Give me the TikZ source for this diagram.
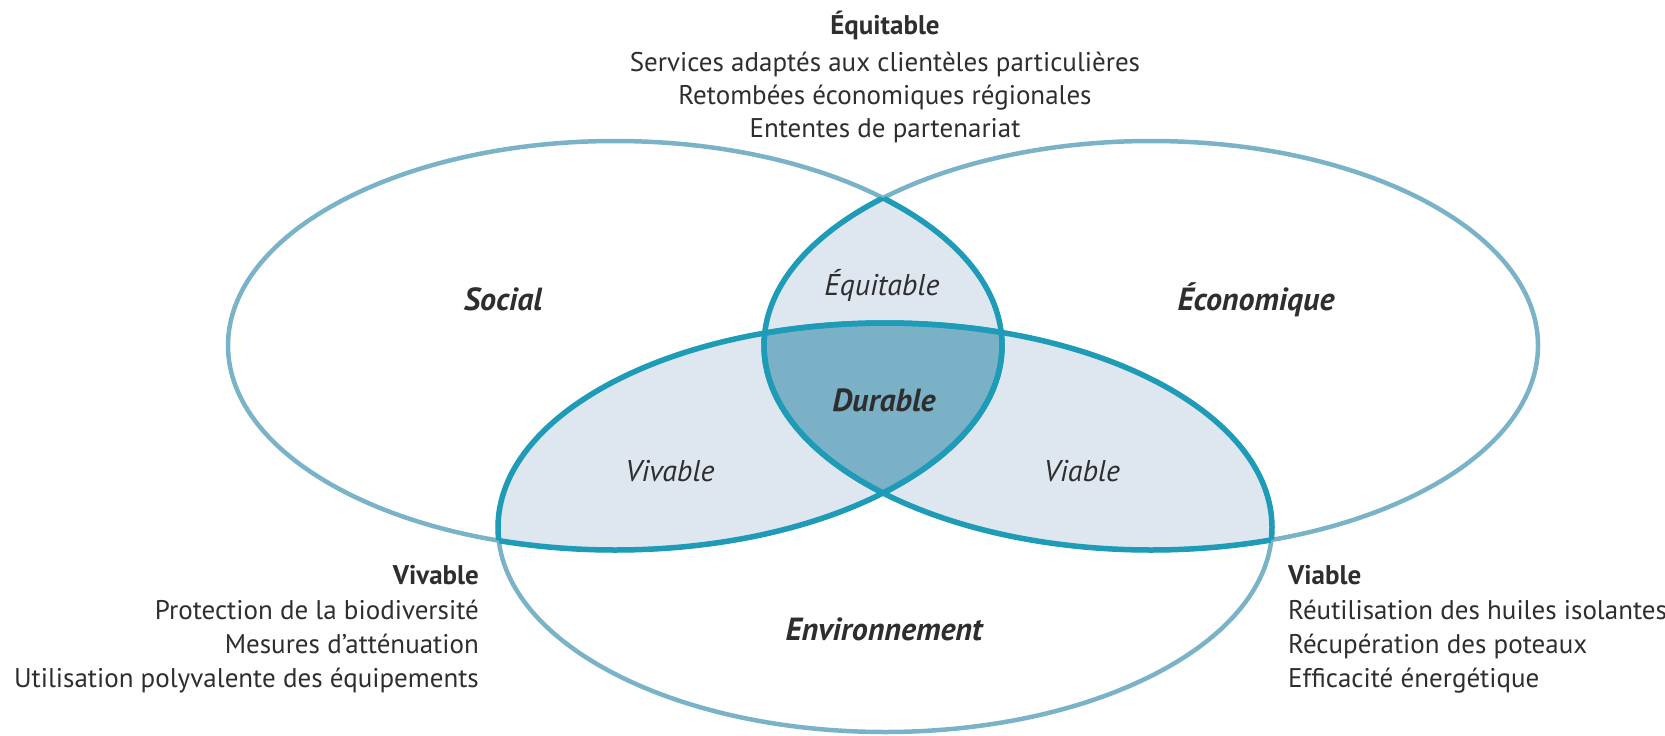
\documentclass[tikz,border=0pt]{standalone}
\usepackage{fontspec}
\setmainfont{PT Sans}
\definecolor{outerc}{HTML}{7AB3C8}
\definecolor{innerc}{HTML}{1E9BB7}
\definecolor{pairc}{HTML}{DEE6F0}
\definecolor{triplec}{HTML}{7AB1C6}
\definecolor{txtc}{HTML}{2E2E2E}
\begin{document}
\begin{tikzpicture}[x=1pt,y=-1pt,
  outerline/.style={draw=outerc,line width=4.5pt},
  innerline/.style={draw=innerc,line width=5.5pt},
  body/.style={font=\fontsize{27}{32}\selectfont,text=txtc,inner sep=0pt},
  head/.style={font=\fontsize{27}{32}\selectfont\bfseries,text=txtc,inner sep=0pt},
  setlabel/.style={font=\fontsize{32}{36}\selectfont\bfseries\itshape,text=txtc,inner sep=0pt,anchor=base},
  zonelabel/.style={font=\fontsize{30}{34}\selectfont\itshape,text=txtc,inner sep=0pt,anchor=base}]
\useasboundingbox (0,0) rectangle (1665,736);
\def\soc{(615,345.5) ellipse [x radius=387pt, y radius=204.5pt]}
\def\eco{(1151,345.5) ellipse [x radius=387pt, y radius=204.5pt]}
\def\env{(885,527.5) ellipse [x radius=387pt, y radius=204.5pt]}
% pairwise fills
\begin{scope}\clip \soc; \fill[pairc] \eco; \fill[pairc] \env; \end{scope}
\begin{scope}\clip \eco; \fill[pairc] \env; \end{scope}
% triple fill
\begin{scope}\clip \soc; \clip \eco; \fill[triplec] \env; \end{scope}
% outer lines
\path[outerline] \soc;
\path[outerline] \eco;
\path[outerline] \env;
% inner dark arcs
\begin{scope}\clip \soc; \path[innerline] \eco; \path[innerline] \env; \end{scope}
\begin{scope}\clip \eco; \path[innerline] \soc; \path[innerline] \env; \end{scope}
\begin{scope}\clip \env; \path[innerline] \soc; \path[innerline] \eco; \end{scope}
% set labels
\node[setlabel] (social) at (503,310) {Social};
\node[setlabel] (economique) at (1256,310) {Économique};
\node[setlabel] (environnement) at (884,640) {Environnement};
\node[setlabel] (durable) at (884,411) {Durable};
\node[zonelabel] (equitablez) at (882,295) {Équitable};
\node[zonelabel] (vivablez) at (670,481) {Vivable};
\node[zonelabel] (viablez) at (1082,481) {Viable};
% top block
\node[head,anchor=base] (eqhead) at (885,34) {Équitable};
\node[body,anchor=base] (eq1) at (885,71) {Services adaptés aux clientèles particulières};
\node[body,anchor=base] (eq2) at (885,104) {Retombées économiques régionales};
\node[body,anchor=base] (eq3) at (885,137) {Ententes de partenariat};
% bottom-left block
\node[head,anchor=base east] (vivhead) at (479,584) {Vivable};
\node[body,anchor=base east] (viv1) at (479,619) {Protection de la biodiversité};
\node[body,anchor=base east] (viv2) at (479,653) {Mesures d’atténuation};
\node[body,anchor=base east] (viv3) at (479,687) {Utilisation polyvalente des équipements};
% bottom-right block
\node[head,anchor=base west] (viahead) at (1288,584) {Viable};
\node[body,anchor=base west] (via1) at (1288,619) {Réutilisation des huiles isolantes};
\node[body,anchor=base west] (via2) at (1288,653) {Récupération des poteaux};
\node[body,anchor=base west] (via3) at (1288,687) {Efficacité énergétique};
\end{tikzpicture}
\end{document}
